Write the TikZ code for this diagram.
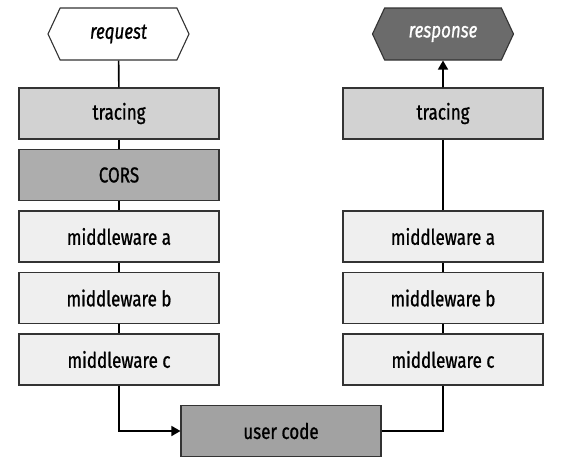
\documentclass[tikz,border=0pt]{standalone}
\usepackage{fontspec}
\setmainfont{Fira Sans}[FakeStretch=0.79,FakeBold=0.9]
\usetikzlibrary{shapes.symbols,arrows.meta}
\definecolor{bordc}{HTML}{333333}
\definecolor{tracec}{HTML}{D2D2D2}
\definecolor{corsc}{HTML}{ADADAD}
\definecolor{midc}{HTML}{EFEFEF}
\definecolor{userc}{HTML}{A2A2A2}
\definecolor{respc}{HTML}{6B6B6B}
\begin{document}
\begin{tikzpicture}[x=1pt,y=-1pt,
  box/.style={draw=bordc, line width=1.1pt, minimum width=200pt, minimum height=51pt, inner sep=0pt, font=\fontsize{21.5}{24}\selectfont},
  hex/.style={signal, signal to=east and west, signal pointer angle=130, draw=bordc, line width=1.1pt, minimum width=141pt, minimum height=52pt, inner sep=0pt, font=\fontsize{21.5}{24}\selectfont\itshape},
  conn/.style={line width=1.6pt, black},
  tip/.style={-{Triangle[length=9pt,width=10pt]}}]
\useasboundingbox (0,0) rectangle (563,464);
\node[hex, fill=white] (req) at (118.5,34) {request};
\node[hex, fill=respc, text=white] (resp) at (443,34) {response};
\node[box, fill=tracec] (lt) at (119,113.5) {tracing};
\node[box, fill=corsc] (lcors) at (119,175) {CORS};
\node[box, fill=midc] (la) at (119,236.5) {middleware a};
\node[box, fill=midc] (lb) at (119,298) {middleware b};
\node[box, fill=midc] (lc) at (119,359.5) {middleware c};
\node[box, fill=tracec] (rt) at (443,113.5) {tracing};
\node[box, fill=midc] (ra) at (443,236.5) {middleware a};
\node[box, fill=midc] (rb) at (443,298) {middleware b};
\node[box, fill=midc] (rc) at (443,359.5) {middleware c};
\node[box, fill=userc] (uc) at (281,431) {user code};
\draw[conn] (req) -- (lt);
\draw[conn] (lt) -- (lcors);
\draw[conn] (lcors) -- (la);
\draw[conn] (la) -- (lb);
\draw[conn] (lb) -- (lc);
\draw[conn, tip] (lc.south) |- (uc.west);
\draw[conn] (uc.east) -| (rc.south);
\draw[conn] (rc) -- (rb);
\draw[conn] (rb) -- (ra);
\draw[conn] (ra) -- (rt);
\draw[conn, tip] (rt) -- (resp);
\end{tikzpicture}
\end{document}
